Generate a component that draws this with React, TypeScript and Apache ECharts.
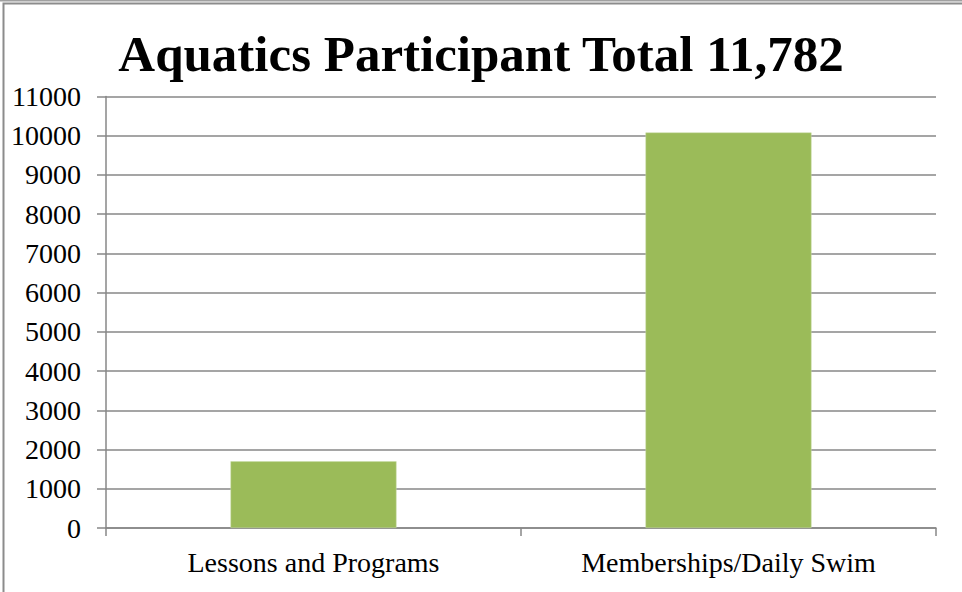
import React, { useEffect, useRef } from "react";
import * as echarts from "echarts";

const categories = ["Lessons and Programs", "Memberships/Daily Swim"];
const participants = [1700, 10082];
const titleText = "Aquatics Participant Total 11,782";

export default function App() {
  const ref = useRef<HTMLDivElement>(null);
  useEffect(() => {
    document.body.style.margin = "0";
    const chart = echarts.init(ref.current!, null, { renderer: "svg" });
    const gray = "#878787";
    chart.setOption({
      animation: false,
      backgroundColor: "#fff",
      title: {
        text: titleText,
        left: "center",
        top: 23,
        textStyle: {
          fontFamily: "Liberation Serif",
          fontWeight: "bold",
          fontSize: 51,
          color: "#000",
        },
      },
      graphic: [
        {
          type: "rect",
          shape: { x: 3.5, y: 3.5, width: 990, height: 600 },
          style: { fill: "none", stroke: "#8c8c8c", lineWidth: 2 },
        },
        {
          type: "line",
          shape: { x1: 0, y1: 0.5, x2: 962, y2: 0.5 },
          style: { stroke: "#a0a0a0", lineWidth: 2 },
        },
      ],
      grid: { left: 106, right: 26, top: 96.5, bottom: 64 },
      xAxis: {
        type: "category",
        data: categories,
        axisLine: { lineStyle: { color: gray, width: 1.5 } },
        axisTick: { show: true, length: 8, lineStyle: { color: gray, width: 1.5 } },
        axisLabel: {
          fontFamily: "Liberation Serif",
          fontSize: 28,
          color: "#000",
          margin: 20,
        },
      },
      yAxis: {
        type: "value",
        min: 0,
        max: 11000,
        interval: 1000,
        axisLine: { show: true, lineStyle: { color: gray, width: 1.5 } },
        axisTick: { show: true, length: 9, lineStyle: { color: gray, width: 1.5 } },
        splitLine: { lineStyle: { color: gray, width: 1.5 } },
        axisLabel: {
          fontFamily: "Liberation Serif",
          fontSize: 28,
          color: "#000",
          margin: 25,
          formatter: (v: number) => String(v),
        },
      },
      series: [
        {
          type: "bar",
          data: participants,
          barWidth: "40%",
          itemStyle: { color: "#9BBB59", borderColor: "#c9dca8", borderWidth: 0.5 },
        },
      ],
    });
    return () => chart.dispose();
  }, []);
  return <div ref={ref} style={{ width: 962, height: 592 }} />;
}
